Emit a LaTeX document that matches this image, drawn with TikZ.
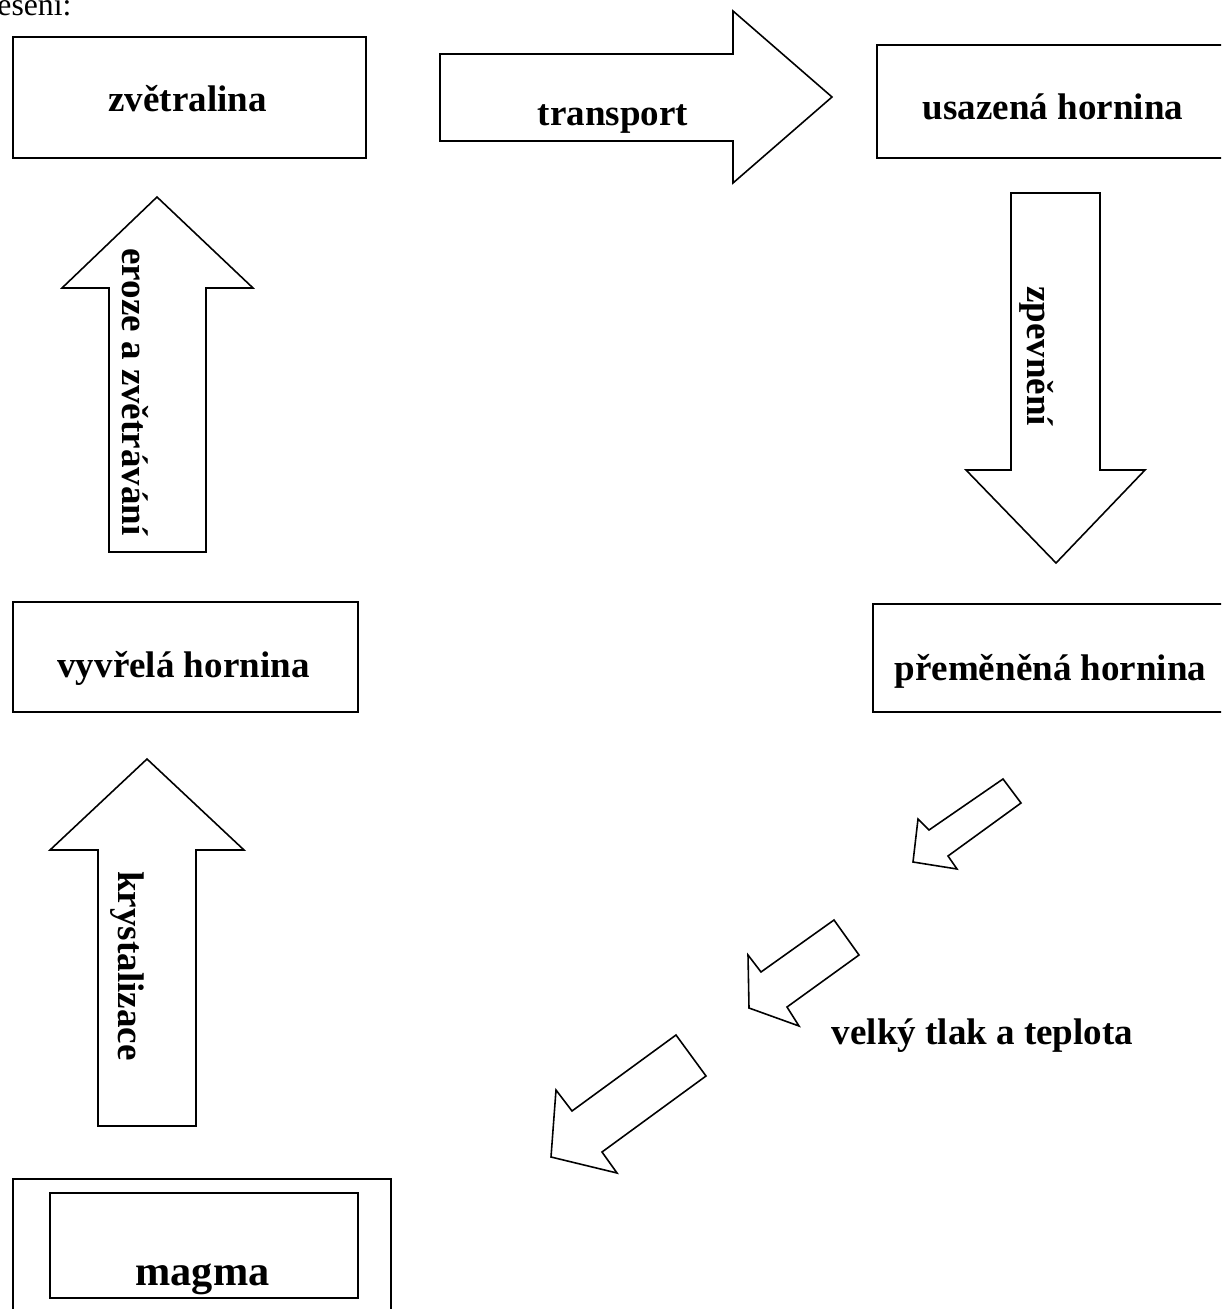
\documentclass[tikz,border=0pt]{standalone}
\usepackage{fontspec}
\setmainfont{Liberation Serif}
\tikzset{
  box/.style={draw, line width=0.8pt, rectangle, inner sep=0pt, anchor=north west},
  lbl/.style={font=\fontsize{14}{16}\selectfont\bfseries, inner sep=0pt, anchor=base},
  vlbl/.style={lbl, rotate=-90},
  blockarrow/.style={draw, line width=0.6pt, line join=miter, fill=white},
}
\begin{document}
\begin{tikzpicture}[x=0.378pt, y=-0.378pt]
\useasboundingbox (0,0) rectangle (1221,1309);
\clip (0,0) rectangle (1221,1309);
\node[font=\fontsize{12}{14}\selectfont, inner sep=0pt, anchor=base east] (title) at (72,16) {Řešení:};
% boxes
\node[box, minimum width=353*0.378pt, minimum height=121*0.378pt] (zv) at (12,36) {};
\node[lbl] (zvt) at (187.5,112) {zvětralina};
\node[box, minimum width=360*0.378pt, minimum height=113*0.378pt] (us) at (876,44) {};
\node[lbl] (ust) at (1053,120) {usazená hornina};
\node[box, minimum width=345*0.378pt, minimum height=110*0.378pt] (vy) at (12,601) {};
\node[lbl] (vyt) at (183.5,677) {vyvřelá hornina};
\node[box, minimum width=360*0.378pt, minimum height=108*0.378pt] (pr) at (872,603) {};
\node[lbl] (prt) at (1050.5,680) {přeměněná hornina};
\node[box, minimum width=378*0.378pt, minimum height=160*0.378pt] (mgo) at (12,1178) {};
\node[box, minimum width=308*0.378pt, minimum height=105*0.378pt] (mgi) at (49,1192) {};
\node[lbl, font=\fontsize{16}{18}\selectfont\bfseries] (mgt) at (202.5,1285) {magma};
% block arrows
\draw[blockarrow] (440,54) -- (733,54) -- (733,11) -- (832,97) -- (733,183) -- (733,141) -- (440,141) -- cycle;
\node[lbl] (trt) at (613,126) {transport};
\draw[blockarrow] (1011,193) -- (1100,193) -- (1100,470) -- (1145,470) -- (1056,563) -- (966,470) -- (1011,470) -- cycle;
\node[vlbl] (zpt) at (1027,356) {zpevnění};
\draw[blockarrow] (109,552) -- (109,288) -- (62,288) -- (157,197) -- (253,288) -- (206,288) -- (206,552) -- cycle;
\node[vlbl] (ert) at (122,392) {eroze a zvětrávání};
\draw[blockarrow] (98,1126) -- (98,850) -- (50,850) -- (147,759) -- (244,850) -- (196,850) -- (196,1126) -- cycle;
\node[vlbl] (krt) at (118,966) {krystalizace};
% small diagonal arrows
\draw[blockarrow] (913,862) -- (918,819) -- (929,830) -- (1003,779) -- (1021,803) -- (948,856) -- (957,869) -- cycle;
\draw[blockarrow] (749,1008) -- (748,955) -- (761,972) -- (834,920) -- (859,955) -- (787,1007) -- (799,1026) -- cycle;
\draw[blockarrow] (551,1157) -- (556,1090) -- (572,1111) -- (676,1035) -- (706,1076) -- (602,1152) -- (617,1173) -- cycle;
\node[lbl] (vtt) at (982.5,1044) {velký tlak a teplota};
\end{tikzpicture}
\end{document}
